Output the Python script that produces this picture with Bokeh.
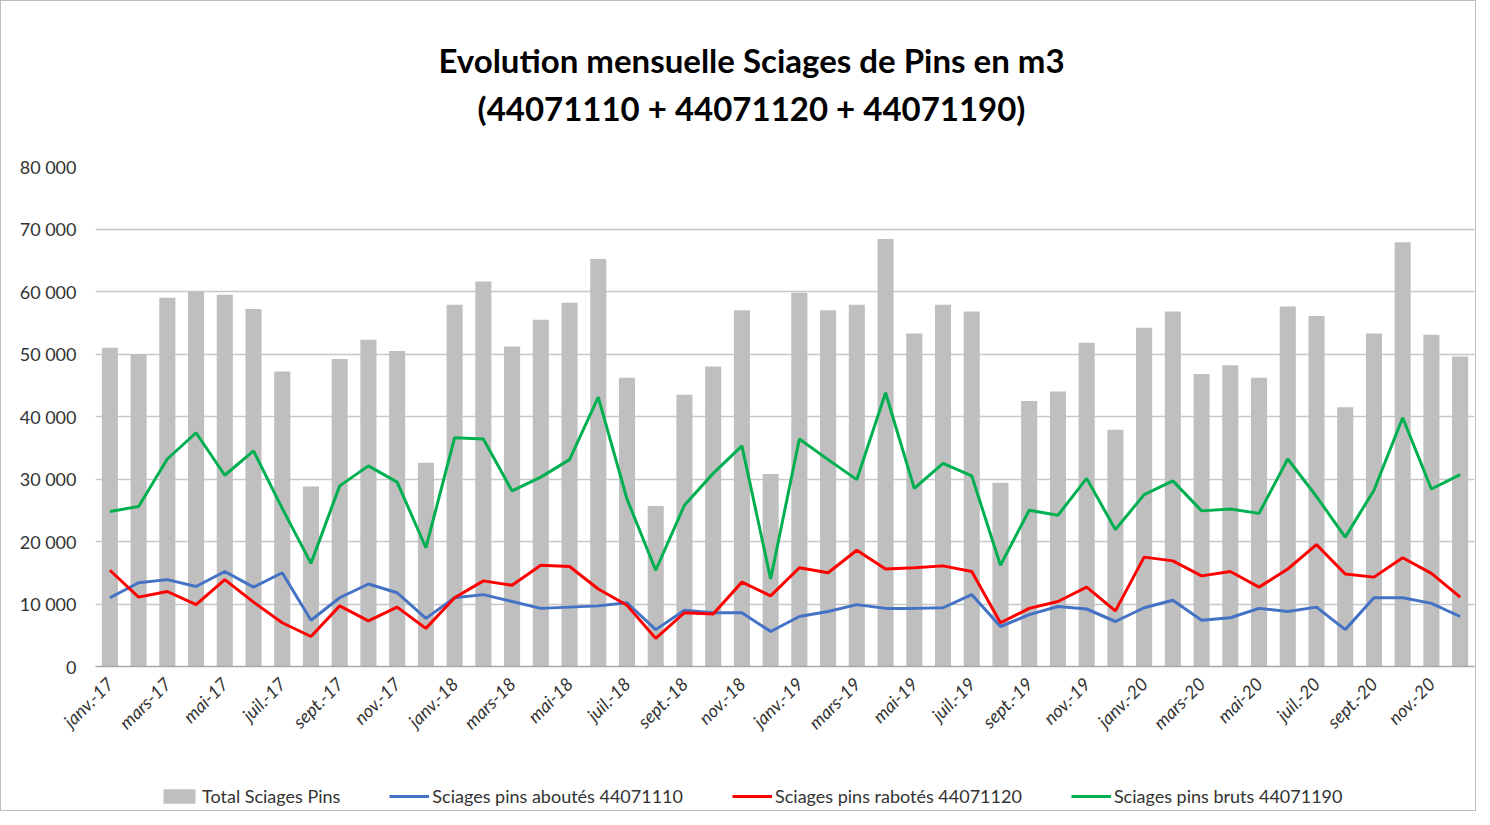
import math
from bokeh.plotting import figure
from bokeh.layouts import column
from bokeh.models import (ColumnDataSource, FixedTicker, Legend, LegendItem, Range1d)
from bokeh.core.properties import value
from bokeh.embed import file_html
from bokeh.resources import INLINE

months = ["janv.", "févr.", "mars", "avr.", "mai", "juin", "juil.", "août", "sept.", "oct.", "nov.", "déc."]
years = ["17", "18", "19", "20"]
categories = [f"{m}-{y}" for y in years for m in months]

total = [51000, 50000, 59000, 60000, 59500, 57200, 47200, 28800, 49200, 52300, 50500, 32600,
         57900, 61600, 51200, 55500, 58200, 65200, 46200, 25700, 43500, 48000, 57000, 30800,
         59800, 57000, 57900, 68400, 53300, 57900, 56800, 29400, 42500, 44000, 51800, 37900,
         54200, 56800, 46800, 48200, 46200, 57600, 56100, 41500, 53300, 67900, 53100, 49600]
aboutes = [11000, 13400, 13900, 12800, 15200, 12700, 15000, 7400, 11000, 13200, 11800, 7700,
           11000, 11500, 10400, 9300, 9500, 9700, 10200, 5900, 9000, 8600, 8600, 5600,
           8000, 8800, 9900, 9300, 9300, 9400, 11500, 6400, 8300, 9600, 9200, 7200,
           9400, 10600, 7400, 7800, 9300, 8800, 9500, 5900, 11000, 11000, 10100, 8000]
rabotes = [15400, 11100, 12000, 9900, 13900, 10300, 7000, 4800, 9700, 7300, 9500, 6100,
           11000, 13700, 13000, 16200, 16000, 12400, 9800, 4500, 8600, 8400, 13500, 11300,
           15800, 15000, 18600, 15600, 15800, 16100, 15200, 7000, 9300, 10400, 12700, 8900,
           17500, 16900, 14500, 15200, 12700, 15600, 19500, 14800, 14300, 17400, 14900, 11100]
bruts = [24800, 25600, 33200, 37400, 30600, 34500, 25300, 16500, 28900, 32100, 29500, 19000,
         36600, 36400, 28100, 30300, 33100, 43100, 26800, 15400, 25800, 30900, 35300, 14000,
         36400, 33100, 29900, 43800, 28500, 32500, 30500, 16200, 25000, 24200, 30100, 21900,
         27500, 29700, 24900, 25200, 24500, 33200, 27200, 20700, 28200, 39800, 28400, 30700]

y_ticks = [0, 10000, 20000, 30000, 40000, 50000, 60000, 70000, 80000]
series_names = ["Total Sciages Pins", "Sciages pins aboutés 44071110",
                "Sciages pins rabotés 44071120", "Sciages pins bruts 44071190"]
title_lines = ["Evolution mensuelle Sciages de Pins en m3", "(44071110 + 44071120 + 44071190)"]

FONT = "Lato"
W = 1474
ML, MR = 94, 1
BAR_C, BLUE, RED, GREEN = "#BFBFBF", "#4472C4", "#FF0000", "#00B050"


def bare(h, xr, yr):
    f = figure(width=W, height=h, output_backend="svg", toolbar_location=None,
               x_range=xr, y_range=yr, x_axis_type=None, y_axis_type=None,
               min_border_left=ML, min_border_right=MR,
               min_border_top=0, min_border_bottom=0)
    f.grid.grid_line_color = None
    f.outline_line_color = None
    return f


# ---- title block ----
TH = 150
tf = bare(TH, Range1d(ML, W - MR), Range1d(0, TH))
tsrc = ColumnDataSource(dict(x=[750, 750], y=[TH - 58, TH - 106], t=title_lines))
tf.text(x="x", y="y", text="t", source=tsrc, text_align="center", text_baseline="middle",
        text_font=value(FONT), text_font_size="33px", text_font_style="bold", text_color="#000000")

# ---- main chart ----
x = list(range(len(categories)))
src = ColumnDataSource(dict(x=x, total=total, aboutes=aboutes, rabotes=rabotes, bruts=bruts))

MH = 616
p = figure(width=W, height=MH, output_backend="svg", toolbar_location=None,
           x_range=Range1d(-0.5, len(categories) - 0.5), y_range=Range1d(0, 80000),
           min_border_left=ML, min_border_right=MR, min_border_bottom=MH - 15 - 500, min_border_top=15)

p.vbar(x="x", top="total", width=0.56, source=src, fill_color=BAR_C, line_color=None)
p.line(x="x", y="aboutes", source=src, line_color=BLUE, line_width=3)
p.line(x="x", y="rabotes", source=src, line_color=RED, line_width=3)
p.line(x="x", y="bruts", source=src, line_color=GREEN, line_width=3)

p.yaxis.ticker = FixedTicker(ticks=y_ticks)
p.yaxis.major_label_overrides = {t: (f"{t:,}".replace(",", " ")) for t in y_ticks}
p.yaxis.axis_line_color = None
p.yaxis.major_tick_line_color = None
p.yaxis.minor_tick_line_color = None
p.yaxis.major_label_text_font = FONT
p.yaxis.major_label_text_font_size = "18px"
p.yaxis.major_label_text_color = "#333333"
p.yaxis.major_label_standoff = 13

xt = list(range(0, len(categories), 2))
p.xaxis.ticker = FixedTicker(ticks=xt)
p.xaxis.major_label_overrides = {i: categories[i] for i in xt}
p.xaxis.major_label_orientation = math.pi / 4
p.xaxis.axis_line_color = "#A6A6A6"
p.xaxis.axis_line_width = 1.5
p.xaxis.major_tick_line_color = None
p.xaxis.minor_tick_line_color = None
p.xaxis.major_label_text_font = FONT
p.xaxis.major_label_text_font_size = "18px"
p.xaxis.major_label_text_font_style = "italic"
p.xaxis.major_label_text_color = "#333333"
p.xaxis.major_label_standoff = 8

p.xgrid.grid_line_color = None
p.ygrid.grid_line_color = "#C8C8C8"
p.ygrid.grid_line_width = 1.5
p.outline_line_color = None

# ---- legend block ----
LH = 809 - TH - MH
lf = bare(LH, Range1d(0, 1), Range1d(0, 1))
nan = float("nan")
keysrc = ColumnDataSource(dict(x=[nan], y=[nan]))
r0 = lf.vbar(x="x", top="y", width=0.5, source=keysrc, fill_color=BAR_C, line_color=None)
r1 = lf.line(x="x", y="y", source=keysrc, line_color=BLUE, line_width=3)
r2 = lf.line(x="x", y="y", source=keysrc, line_color=RED, line_width=3)
r3 = lf.line(x="x", y="y", source=keysrc, line_color=GREEN, line_width=3)
legend = Legend(items=[
    LegendItem(label=series_names[0], renderers=[r0]),
    LegendItem(label=series_names[1], renderers=[r1]),
    LegendItem(label=series_names[2], renderers=[r2]),
    LegendItem(label=series_names[3], renderers=[r3]),
], orientation="horizontal", location=(64, 3),
    label_text_font=FONT, label_text_font_size="18px", label_text_color="#333333",
    glyph_width=40, glyph_height=18, label_standoff=3, spacing=49,
    background_fill_alpha=0, border_line_color=None, padding=0, margin=0)
lf.add_layout(legend, "center")

layout = column(tf, p, lf, spacing=0)
layout.styles = {"border": "1px solid #BDBDBD"}

open("out.html", "w").write(file_html(layout, INLINE))
